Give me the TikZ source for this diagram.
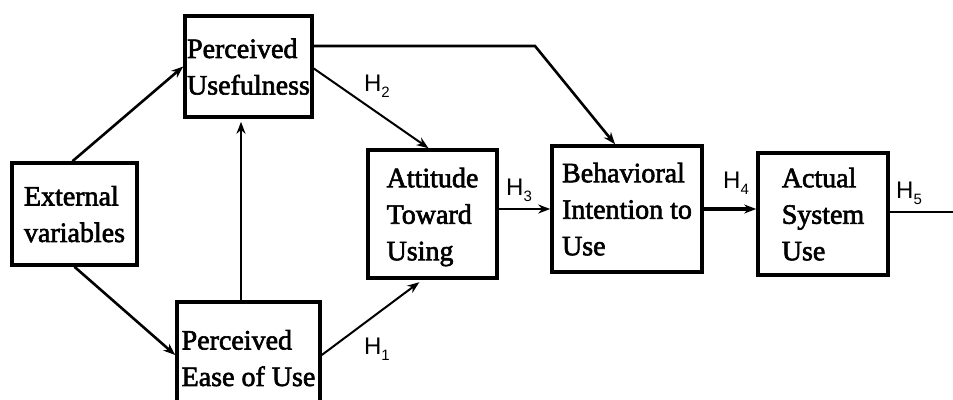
\documentclass[tikz,border=0pt]{standalone}
\usepackage{fontspec}
\setmainfont{Liberation Serif}[FakeBold=2.2]
\newfontfamily\hfont{Liberation Sans}
\usetikzlibrary{arrows.meta}
\tikzset{
  boxnode/.style={draw, line width=3.6pt, align=left, inner sep=0pt,
    font=\fontsize{28}{36.5}\selectfont, text depth=0pt},
  conn/.style={line width=2.6pt, -{Stealth[length=12pt,width=9pt]}},
  hlab/.style={font=\hfont\fontsize{24}{24}\selectfont, inner sep=0pt}
}
\newcommand{\hsub}[1]{H\raisebox{-6pt}{\fontsize{15}{15}\selectfont #1}}
\begin{document}
\begin{tikzpicture}[x=1pt,y=-1pt]
\useasboundingbox (0,0) rectangle (953,399);
\clip (0,0) rectangle (953,399);
\fill[white] (0,0) rectangle (953,399);
\node[boxnode, minimum width=125pt, minimum height=102pt] (ext) at (74.5,214) {External\\variables};
\node[boxnode, minimum width=127pt, minimum height=101pt] (pu) at (248.5,66.5) {Perceived\\Usefulness};
\node[boxnode, minimum width=143pt, minimum height=112pt] (peu) at (248.5,358) {Perceived\\Ease of Use};
\node[boxnode, minimum width=129pt, minimum height=128pt] (atu) at (432.5,214) {Attitude\\Toward\\Using};
\node[boxnode, minimum width=150pt, minimum height=126pt] (bi) at (627,209) {Behavioral\\Intention to\\Use};
\node[boxnode, minimum width=130pt, minimum height=122pt] (asu) at (823,214) {Actual\\System\\Use};
\coordinate (bend) at (535,46);
\coordinate (out) at (953,212);
\draw[conn] ([xshift=-2pt]ext.north) -- (pu.west);
\draw[conn] (ext.south) -- ([yshift=3pt]peu.west);
\draw[conn, shorten >=3pt] ([xshift=-7.5pt]peu.north) -- ([xshift=-7.5pt]pu.south);
\draw[conn, line width=2pt] ([yshift=-2pt]pu.east) -- ([xshift=-4pt]atu.north);
\draw[conn] ([yshift=20.5pt]pu.east) -- (bend) -- ([xshift=-12pt]bi.north);
\draw[conn, line width=2pt, shorten >=4pt] ([yshift=3pt]peu.east) -- ([xshift=-10pt]atu.south);
\draw[conn, line width=2pt] (atu.east |- bi.west) -- (bi.west);
\draw[conn, line width=3.6pt] (bi.east) -- (asu.west |- bi.east);
\draw[line width=2.2pt] ([yshift=2pt]asu.east) -- (out);
\node[hlab] (h2) at (377,86) {\hsub{2}};
\node[hlab] (h1) at (377,349) {\hsub{1}};
\node[hlab] (h3) at (519,190) {\hsub{3}};
\node[hlab] (h4) at (736,183) {\hsub{4}};
\node[hlab] (h5) at (909,193) {\hsub{5}};
\end{tikzpicture}
\end{document}
